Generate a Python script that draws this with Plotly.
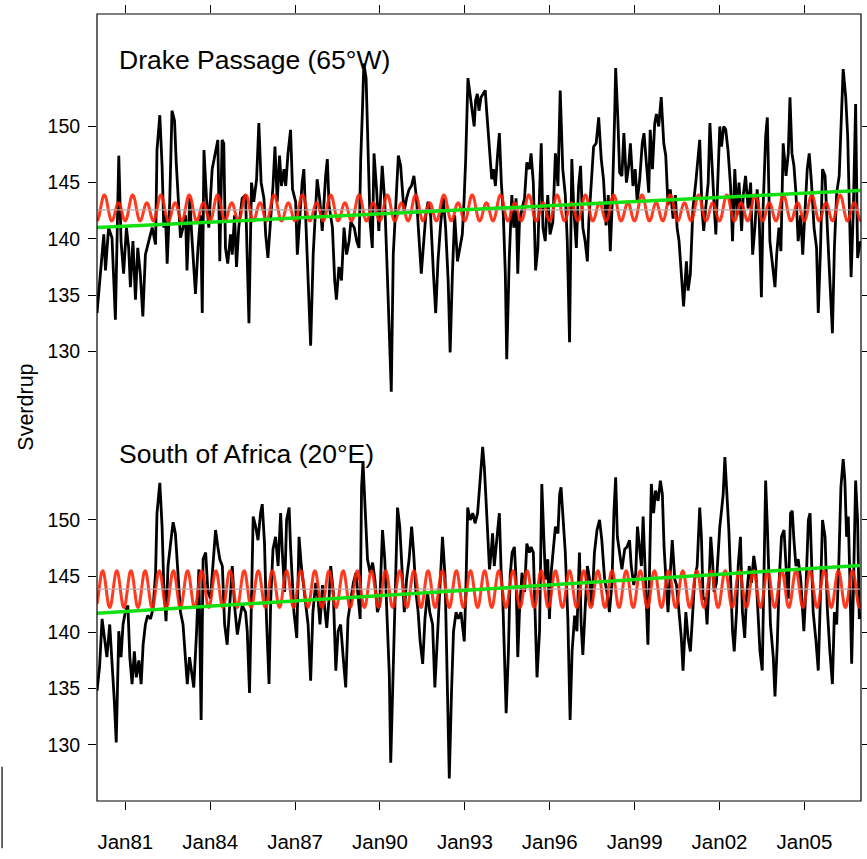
import numpy as np
import plotly.graph_objects as go

# ---------------------------------------------------------------------------
# Axis settings
# ---------------------------------------------------------------------------
year_range = [1980.0, 2007.0]
tick_years = [1981, 1984, 1987, 1990, 1993, 1996, 1999, 2002, 2005]
tick_labels = ["Jan81", "Jan84", "Jan87", "Jan90", "Jan93", "Jan96", "Jan99", "Jan02", "Jan05"]
sv_range = [125, 160]
sv_ticks = [130, 135, 140, 145, 150]

# ---------------------------------------------------------------------------
# Transport through Drake Passage (65°W), Sverdrup
# ---------------------------------------------------------------------------
drake_time = [
    1980.00, 1980.12, 1980.24, 1980.30, 1980.41, 1980.53, 1980.65, 1980.77, 1980.85, 1980.94,
    1981.04, 1981.12, 1981.18, 1981.27, 1981.36, 1981.44, 1981.53, 1981.62, 1981.71, 1981.83,
    1981.95, 1982.07, 1982.12, 1982.22, 1982.30, 1982.36, 1982.42, 1982.48, 1982.57, 1982.65,
    1982.74, 1982.80, 1982.87, 1982.95, 1983.04, 1983.13, 1983.18, 1983.28, 1983.34, 1983.42,
    1983.48, 1983.57, 1983.66, 1983.72, 1983.78, 1983.87, 1983.95, 1984.07, 1984.19, 1984.27,
    1984.34, 1984.42, 1984.48, 1984.54, 1984.62, 1984.72, 1984.78, 1984.86, 1984.93, 1985.01,
    1985.13, 1985.25, 1985.37, 1985.46, 1985.54, 1985.64, 1985.72, 1985.80, 1985.90, 1985.96,
    1986.04, 1986.14, 1986.22, 1986.29, 1986.37, 1986.45, 1986.52, 1986.61, 1986.67, 1986.75,
    1986.84, 1986.91, 1987.02, 1987.08, 1987.17, 1987.25, 1987.31, 1987.41, 1987.46, 1987.55,
    1987.64, 1987.72, 1987.78, 1987.88, 1987.96, 1988.08, 1988.14, 1988.20, 1988.32, 1988.40,
    1988.46, 1988.55, 1988.64, 1988.73, 1988.82, 1988.91, 1988.97, 1989.09, 1989.18, 1989.26,
    1989.32, 1989.38, 1989.43, 1989.51, 1989.58, 1989.65, 1989.73, 1989.79, 1989.88, 1989.96,
    1990.08, 1990.17, 1990.26, 1990.35, 1990.40, 1990.47, 1990.55, 1990.65, 1990.73, 1990.79,
    1990.85, 1990.94, 1991.03, 1991.11, 1991.20, 1991.29, 1991.38, 1991.46, 1991.53, 1991.62,
    1991.70, 1991.79, 1991.89, 1991.97, 1992.05, 1992.15, 1992.24, 1992.32, 1992.41, 1992.48,
    1992.56, 1992.64, 1992.74, 1992.83, 1992.91, 1992.97, 1993.03, 1993.11, 1993.18, 1993.27,
    1993.33, 1993.38, 1993.44, 1993.50,
    1993.57, 1993.65, 1993.72, 1993.77, 1993.87, 1993.95, 1994.01, 1994.08, 1994.16, 1994.22,
    1994.29, 1994.36, 1994.43, 1994.48, 1994.57, 1994.66, 1994.73, 1994.81, 1994.87, 1994.93,
    1995.02, 1995.11, 1995.19, 1995.28, 1995.34, 1995.42, 1995.50, 1995.58, 1995.64, 1995.70,
    1995.76, 1995.84, 1995.93, 1996.01, 1996.11, 1996.20, 1996.29, 1996.37, 1996.46, 1996.55,
    1996.62, 1996.70, 1996.78, 1996.85, 1996.94, 1997.02, 1997.09, 1997.17, 1997.25, 1997.33,
    1997.38, 1997.47, 1997.55, 1997.64, 1997.73, 1997.82, 1997.90, 1997.99, 1998.07, 1998.14,
    1998.21, 1998.29, 1998.33, 1998.41, 1998.47, 1998.55, 1998.62, 1998.71, 1998.79, 1998.85,
    1998.94, 1999.02, 1999.09, 1999.18, 1999.27, 1999.33, 1999.41, 1999.50, 1999.55, 1999.63,
    1999.71, 1999.77, 1999.85, 1999.94, 2000.03, 2000.10, 2000.18, 2000.26, 2000.36, 2000.44,
    2000.50, 2000.57, 2000.65, 2000.73, 2000.83, 2000.89, 2000.97, 2001.06, 2001.16, 2001.24,
    2001.30, 2001.38, 2001.44, 2001.51, 2001.60, 2001.66, 2001.74, 2001.81, 2001.87, 2001.95,
    2002.01, 2002.07, 2002.15, 2002.22, 2002.30, 2002.39, 2002.46, 2002.54, 2002.62, 2002.69,
    2002.78, 2002.84, 2002.92, 2003.01, 2003.10, 2003.17, 2003.25, 2003.33, 2003.40, 2003.48,
    2003.54, 2003.63, 2003.69, 2003.78, 2003.87, 2003.96, 2004.02, 2004.10, 2004.17, 2004.25,
    2004.35, 2004.43, 2004.49, 2004.56, 2004.63, 2004.70, 2004.78, 2004.87, 2004.94, 2005.02,
    2005.10, 2005.17, 2005.25, 2005.34, 2005.43, 2005.49, 2005.57, 2005.64, 2005.73, 2005.81,
    2005.90, 2005.99, 2006.06, 2006.14, 2006.23, 2006.32, 2006.37, 2006.46, 2006.53, 2006.59,
    2006.65, 2006.73, 2006.81, 2006.88, 2006.97,
]
drake_sv = [
    133.4, 137.2, 140.4, 137.2, 141.0, 140.1, 132.8, 147.4, 139.8, 136.9,
    141.0, 139.2, 135.7, 139.8, 134.6, 139.2, 136.9, 133.1, 138.6, 139.8,
    141.0, 139.5, 147.9, 151.0, 146.5, 141.0, 142.1, 137.8, 143.3, 151.4,
    150.5, 146.8, 143.3, 140.1, 141.0, 142.1, 137.2, 143.6, 140.7, 136.9,
    135.1, 139.2, 142.1, 133.4, 147.9, 143.6, 141.0, 146.2, 147.6, 148.8,
    138.0, 148.8, 148.5, 139.2, 137.8, 140.4, 138.6, 142.1, 137.5, 141.0,
    143.6, 143.9, 132.5, 145.0, 143.3, 145.3, 150.3, 145.0, 143.6, 140.4,
    138.3, 141.5, 144.7, 148.2, 143.3, 147.4, 144.7, 146.2, 144.7, 147.6,
    149.7, 144.4, 143.3, 138.6, 142.4, 145.0, 146.2, 139.2, 136.3, 130.5,
    138.6, 142.1, 145.3, 143.3, 140.7, 145.6, 147.1, 143.0, 141.0, 136.3,
    134.6, 137.5, 136.3, 141.0, 138.6, 139.8, 141.5, 141.0, 139.8, 139.2,
    147.1, 151.4, 155.6, 154.3, 147.1, 141.5, 139.2, 147.6, 144.4, 140.7,
    146.5, 143.3, 136.9, 131.1, 126.4, 138.6, 142.7, 147.4, 146.5, 144.7,
    142.4, 143.6, 144.4, 144.7, 145.6, 143.6, 140.4, 136.9, 139.2, 142.1,
    143.3, 142.1, 136.9, 133.4, 138.0, 141.5, 143.6, 141.0, 136.3, 129.9,
    136.9, 142.1, 138.0, 139.2, 140.4, 143.3, 147.1, 154.3, 152.9, 151.1,
    150.0, 152.3, 152.9, 151.4,
    152.6, 152.9, 153.2, 151.4, 147.6, 145.3, 146.2, 144.7, 147.6, 149.4,
    145.0, 142.1, 136.9, 129.3, 138.3, 143.9, 141.0, 143.6, 136.9, 141.5,
    142.7, 143.6, 146.8, 146.2, 147.6, 145.0, 137.2, 139.2, 144.1, 148.5,
    141.0, 139.8, 143.9, 140.4, 141.5, 147.6, 144.7, 153.2, 146.2, 143.9,
    139.8, 130.8, 147.1, 142.7, 139.2, 144.7, 146.5, 141.0, 139.8, 138.0,
    141.5, 144.7, 148.2, 148.5, 150.8, 147.1, 145.3, 141.2, 143.9, 138.9,
    143.3, 150.5, 155.2, 150.5, 145.9, 145.6, 149.4, 145.0, 146.5, 148.5,
    144.7, 146.2, 143.3, 145.3, 148.5, 149.4, 147.1, 144.1, 149.7, 146.2,
    150.3, 151.1, 150.0, 152.6, 148.5, 147.4, 143.0, 144.4, 141.8, 143.9,
    141.0, 139.8, 136.9, 134.0, 138.0, 135.4, 136.9, 142.7, 145.0, 147.6,
    148.8, 142.7, 140.7, 142.7, 145.0, 150.3, 145.6, 143.0, 140.4, 147.1,
    150.0, 148.2, 150.0, 149.7, 147.9, 144.7, 139.8, 146.2, 142.1, 145.0,
    140.7, 143.9, 145.6, 142.7, 145.0, 138.6, 141.0, 144.4, 142.1, 134.8,
    142.7, 149.1, 150.8, 139.8, 137.5, 135.7, 138.6, 141.0, 138.9, 148.5,
    145.6, 147.6, 152.6, 147.6, 146.5, 144.1, 139.8, 142.1, 138.6, 142.1,
    146.2, 147.6, 145.0, 141.0, 139.2, 133.4, 139.2, 146.2, 145.6, 141.0,
    136.9, 131.6, 139.2, 144.1, 145.6, 151.4, 155.1, 152.6, 149.1, 142.7,
    136.6, 142.7, 152.0, 138.3, 139.8,
]

# ---------------------------------------------------------------------------
# Transport south of Africa (20°E), Sverdrup
# ---------------------------------------------------------------------------
africa_time = [
    1980.00, 1980.09, 1980.18, 1980.26, 1980.35, 1980.45, 1980.53, 1980.61, 1980.68, 1980.77,
    1980.85, 1980.92, 1981.00, 1981.09, 1981.16, 1981.24, 1981.32, 1981.39, 1981.48, 1981.56,
    1981.63, 1981.71, 1981.79, 1981.89, 1981.98, 1982.07, 1982.12, 1982.22, 1982.30, 1982.36,
    1982.44, 1982.51, 1982.60, 1982.69, 1982.77, 1982.86, 1982.95, 1983.04, 1983.13, 1983.19,
    1983.27, 1983.34, 1983.42, 1983.52, 1983.60, 1983.68, 1983.75, 1983.84, 1983.92, 1984.01,
    1984.11, 1984.19, 1984.27, 1984.34, 1984.43, 1984.51, 1984.60, 1984.68, 1984.78, 1984.86,
    1984.96, 1985.05, 1985.13, 1985.25, 1985.31, 1985.39, 1985.45, 1985.52, 1985.61, 1985.69,
    1985.78, 1985.84, 1985.92, 1985.99, 1986.08, 1986.14, 1986.22, 1986.31, 1986.40, 1986.49,
    1986.55, 1986.63, 1986.70, 1986.79, 1986.84, 1986.90, 1986.96, 1987.06, 1987.14, 1987.22,
    1987.32, 1987.40, 1987.46, 1987.55, 1987.63, 1987.73, 1987.81, 1987.88, 1987.97, 1988.05,
    1988.12, 1988.20, 1988.26, 1988.35, 1988.44, 1988.52, 1988.61, 1988.70, 1988.79, 1988.87,
    1988.97, 1989.06, 1989.15, 1989.23, 1989.30, 1989.35, 1989.40, 1989.48, 1989.56, 1989.65,
    1989.74, 1989.82, 1989.91, 1989.99, 1990.09, 1990.17, 1990.24, 1990.33, 1990.38, 1990.47,
    1990.54, 1990.62, 1990.70, 1990.77, 1990.86, 1990.94, 1991.03, 1991.12, 1991.19, 1991.27,
    1991.35, 1991.42, 1991.51, 1991.59, 1991.68, 1991.76, 1991.86, 1991.94, 1992.04, 1992.13,
    1992.21, 1992.30, 1992.39, 1992.45, 1992.53, 1992.60, 1992.69, 1992.77, 1992.86, 1992.94,
    1992.98, 1993.04, 1993.10, 1993.19, 1993.28, 1993.36, 1993.45,
    1993.63, 1993.69, 1993.75, 1993.81, 1993.87, 1993.93, 1993.98, 1994.04, 1994.10, 1994.16,
    1994.22, 1994.28, 1994.34, 1994.40, 1994.46, 1994.54, 1994.60, 1994.67, 1994.75, 1994.81,
    1994.87, 1994.93, 1995.02, 1995.11, 1995.19, 1995.28, 1995.34, 1995.42, 1995.50, 1995.55,
    1995.64, 1995.72, 1995.79, 1995.85, 1995.93, 1995.99, 1996.05, 1996.13, 1996.20, 1996.29,
    1996.35, 1996.40, 1996.46, 1996.55, 1996.64, 1996.72, 1996.79, 1996.88, 1996.96, 1997.05,
    1997.11, 1997.17, 1997.27, 1997.33, 1997.41, 1997.49, 1997.58, 1997.67, 1997.76, 1997.84,
    1997.94, 1998.02, 1998.11, 1998.20, 1998.27, 1998.33, 1998.39, 1998.47, 1998.55, 1998.65,
    1998.73, 1998.82, 1998.88, 1998.97, 1999.04, 1999.10, 1999.15, 1999.24, 1999.30, 1999.35,
    1999.41, 1999.47, 1999.53, 1999.59, 1999.67, 1999.74, 1999.83, 1999.91, 1999.98, 2000.04,
    2000.10, 2000.18, 2000.26, 2000.33, 2000.42, 2000.48, 2000.57, 2000.65, 2000.71, 2000.81,
    2000.89, 2000.97, 2001.04, 2001.12, 2001.21, 2001.30, 2001.36, 2001.42, 2001.50, 2001.56,
    2001.63, 2001.69, 2001.75, 2001.81, 2001.89, 2001.95, 2002.01, 2002.07, 2002.13, 2002.19,
    2002.27, 2002.33, 2002.40, 2002.46, 2002.52, 2002.60, 2002.66, 2002.74, 2002.81, 2002.89,
    2002.95, 2003.05, 2003.13, 2003.21, 2003.28, 2003.37, 2003.43, 2003.51, 2003.57, 2003.63,
    2003.69, 2003.74, 2003.80, 2003.90, 2003.96, 2004.04, 2004.11, 2004.19, 2004.28, 2004.35,
    2004.43, 2004.51, 2004.57, 2004.63, 2004.70, 2004.78, 2004.87, 2004.94, 2004.98, 2005.05,
    2005.14, 2005.20, 2005.25, 2005.31, 2005.41, 2005.49, 2005.57, 2005.64, 2005.73, 2005.81,
    2005.90, 2005.99, 2006.06, 2006.14, 2006.22, 2006.29, 2006.37, 2006.43, 2006.49, 2006.55,
    2006.61, 2006.67, 2006.73, 2006.81, 2006.88, 2006.94, 2006.99,
]
africa_sv = [
    134.8, 136.9, 141.2, 139.5, 137.8, 140.7, 137.8, 134.0, 130.2, 140.1,
    137.8, 140.7, 141.8, 142.4, 137.8, 135.4, 138.3, 136.0, 137.5, 135.4,
    138.9, 140.7, 141.5, 141.2, 142.1, 145.3, 150.6, 153.3, 149.4, 144.2,
    141.0, 145.9, 147.9, 149.8, 148.8, 144.7, 141.8, 140.7, 137.2, 135.4,
    137.8, 136.6, 135.1, 140.1, 145.6, 132.2, 146.5, 147.1, 143.6, 143.0,
    146.5, 149.1, 147.6, 146.5, 145.9, 140.7, 138.9, 141.8, 145.9, 142.4,
    139.8, 141.2, 142.4, 141.8, 140.1, 134.6, 141.8, 150.3, 149.4, 148.2,
    150.6, 151.4, 147.9, 141.2, 135.4, 143.0, 147.4, 148.5, 145.9, 150.6,
    147.1, 143.6, 150.0, 151.1, 147.6, 145.0, 141.8, 139.5, 148.5, 145.9,
    143.6, 142.1, 140.7, 135.7, 141.8, 144.4, 143.0, 140.7, 144.2, 142.1,
    140.4, 143.0, 145.9, 143.6, 136.6, 140.1, 140.7, 137.8, 135.1, 141.2,
    143.0, 144.4, 145.3, 143.0, 141.2, 152.9, 155.2, 150.8, 146.5, 145.3,
    146.2, 144.7, 141.8, 142.4, 149.1, 146.5, 141.8, 136.3, 128.4, 137.8,
    143.0, 151.1, 149.4, 146.5, 141.8, 144.7, 146.5, 149.4, 147.1, 143.6,
    141.8, 139.2, 137.2, 141.2, 143.6, 141.8, 140.7, 135.1, 140.1, 145.6,
    148.5, 145.0, 135.4, 127.0, 134.8, 140.1, 141.8, 141.2, 141.8, 140.1,
    139.2, 144.2, 151.1, 150.0, 150.6, 149.7, 150.6,
    156.5, 154.6, 151.7, 148.8, 145.6, 147.1, 148.8, 145.9, 147.9, 149.1,
    150.6, 145.6, 143.0, 137.2, 132.8, 138.3, 145.0, 147.1, 147.6, 144.7,
    137.8, 141.8, 145.3, 143.6, 147.9, 147.1, 147.6, 147.1, 139.5, 136.0,
    140.1, 153.2, 148.5, 144.7, 146.5, 141.2, 145.3, 147.6, 149.4, 148.8,
    152.3, 152.9, 150.8, 147.1, 141.2, 132.2, 138.3, 141.5, 140.1, 147.1,
    140.7, 138.0, 143.0, 145.9, 144.7, 142.4, 147.1, 149.1, 150.0, 148.2,
    144.7, 143.6, 141.8, 144.4, 150.8, 153.8, 148.5, 147.1, 145.6, 147.4,
    147.6, 148.2, 145.9, 144.2, 145.3, 149.4, 148.2, 145.9, 150.3, 146.5,
    143.6, 138.9, 145.9, 153.2, 150.6, 152.6, 151.7, 153.5, 152.3, 147.6,
    145.0, 141.8, 145.3, 148.2, 144.7, 144.2, 141.8, 139.5, 136.6, 141.8,
    139.5, 138.3, 141.2, 144.7, 145.9, 151.1, 148.5, 143.0, 143.0, 140.7,
    144.4, 148.5, 146.5, 143.6, 144.4, 147.1, 149.4, 150.8, 152.3, 155.6,
    152.3, 149.1, 144.2, 140.1, 138.3, 141.8, 145.9, 148.5, 141.8, 139.5,
    143.0, 145.9, 144.4, 146.8, 145.6, 141.8, 138.3, 136.6, 144.7, 153.5,
    149.4, 145.3, 140.7, 137.8, 134.3, 138.9, 144.7, 148.5, 149.1, 145.9,
    143.0, 150.6, 150.8, 148.2, 145.9, 146.5, 144.7, 141.8, 140.1, 143.6,
    150.0, 150.6, 145.9, 141.8, 139.2, 136.6, 143.6, 150.0, 148.5, 142.1,
    138.3, 135.4, 141.8, 140.7, 146.5, 152.9, 155.4, 153.5, 148.5, 150.3,
    144.4, 137.2, 143.6, 153.5, 150.0, 141.2, 141.8,
]

# Mean seasonal cycle, 24 half-monthly values per calendar year
drake_clim = [
    141.59, 141.75, 142.14, 142.69, 143.25, 143.69, 143.90, 143.83, 143.49, 142.97, 142.39, 141.91,
    141.63, 141.61, 141.83, 142.23, 142.67, 143.03, 143.20, 143.14, 142.86, 142.44, 142.01, 141.69,
]
africa_clim = [
    142.52, 143.18, 144.02, 144.82, 145.36, 145.49, 145.18, 144.52, 143.68, 142.88, 142.34, 142.21,
    142.52, 143.18, 144.02, 144.82, 145.36, 145.49, 145.18, 144.52, 143.68, 142.88, 142.34, 142.21,
]

# Linear trend end points
trend_years = [1980.0, 2006.97]
drake_trend = [141.0, 144.3]
africa_trend = [141.7, 145.95]

assert len(drake_time) == len(drake_sv)
assert len(africa_time) == len(africa_sv)


def seasonal_series(clim):
    """Repeat a one-year climatology over the whole record."""
    n = len(clim)
    first, last = int(year_range[0]), int(year_range[1])
    t = np.concatenate([y + np.arange(n) / n for y in range(first, last)] + [[float(last)]])
    v = np.concatenate([np.tile(clim, last - first), [clim[0]]])
    return t, v


BLACK = "#000000"
RED = "rgba(255,32,0,0.88)"
GREEN = "#12e012"
GREY = "#b9a9a9"

fig = go.Figure()

panels = [
    ("x2", "y", drake_time, drake_sv, drake_clim, drake_trend),
    ("x", "y2", africa_time, africa_sv, africa_clim, africa_trend),
]
for xa, ya, t, sv, clim, trend in panels:
    fig.add_trace(go.Scatter(x=t, y=sv, mode="lines", xaxis=xa, yaxis=ya,
                             line=dict(color=BLACK, width=2.8), hoverinfo="skip"))
    ct, cv = seasonal_series(clim)
    fig.add_trace(go.Scatter(x=ct, y=cv, mode="lines", xaxis=xa, yaxis=ya,
                             line=dict(color=RED, width=3, shape="spline", smoothing=1),
                             hoverinfo="skip"))
    mean_level = float(np.mean(clim))
    fig.add_trace(go.Scatter(x=year_range, y=[mean_level, mean_level], mode="lines",
                             xaxis=xa, yaxis=ya, line=dict(color=GREY, width=1.3),
                             hoverinfo="skip"))
    fig.add_trace(go.Scatter(x=trend_years, y=trend, mode="lines", xaxis=xa, yaxis=ya,
                             line=dict(color=GREEN, width=3.5), hoverinfo="skip"))

FONT = "Liberation Sans, Arial, Helvetica, sans-serif"

x_common = dict(range=year_range, tickmode="array", tickvals=tick_years, ticktext=tick_labels,
                ticks="outside", ticklen=8, tickwidth=1.2, tickcolor=BLACK,
                showgrid=False, zeroline=False, showline=False)
y_common = dict(range=sv_range, tickmode="array", tickvals=sv_ticks,
                ticks="outside", ticklen=8, tickwidth=1.2, tickcolor=BLACK, mirror="ticks",
                showgrid=False, zeroline=False, showline=False,
                tickfont=dict(family=FONT, size=19.5, color=BLACK), ticklabelstandoff=4)

fig.update_layout(
    width=867, height=859,
    margin=dict(l=97, r=6, t=9, b=47),
    paper_bgcolor="white", plot_bgcolor="white",
    showlegend=False,
    font=dict(family=FONT, color=BLACK),
    xaxis=dict(**x_common, anchor="y2", domain=[0, 1],
               tickfont=dict(family=FONT, size=20.5, color=BLACK), ticklabelstandoff=14),
    xaxis2=dict(**x_common, anchor="y", side="top", domain=[0, 1], showticklabels=False),
    yaxis=dict(**y_common, domain=[0.5, 1], anchor="x2"),
    yaxis2=dict(**y_common, domain=[0, 0.5], anchor="x"),
    shapes=[
        dict(type="rect", xref="paper", yref="paper", x0=0, x1=1, y0=0, y1=1,
             line=dict(color=BLACK, width=1.2), layer="above"),
        dict(type="line", xref="paper", yref="paper", x0=-0.1243, x1=-0.1243,
             y0=0.0436, y1=-0.06, line=dict(color=BLACK, width=1.2)),
    ],
    annotations=[
        dict(text="Drake Passage (65°W)", xref="paper", yref="paper", x=0.026, y=0.941,
             xanchor="left", yanchor="middle", showarrow=False,
             font=dict(family=FONT, size=26.5, color=BLACK)),
        dict(text="South of Africa (20°E)", xref="paper", yref="paper", x=0.026, y=0.441,
             xanchor="left", yanchor="middle", showarrow=False,
             font=dict(family=FONT, size=26.5, color=BLACK)),
        dict(text="Sverdrup", xref="paper", yref="paper", x=-0.094, y=0.5,
             xanchor="center", yanchor="middle", textangle=-90, showarrow=False,
             font=dict(family=FONT, size=21.5, color=BLACK)),
    ],
)

fig.write_html("out.html")
